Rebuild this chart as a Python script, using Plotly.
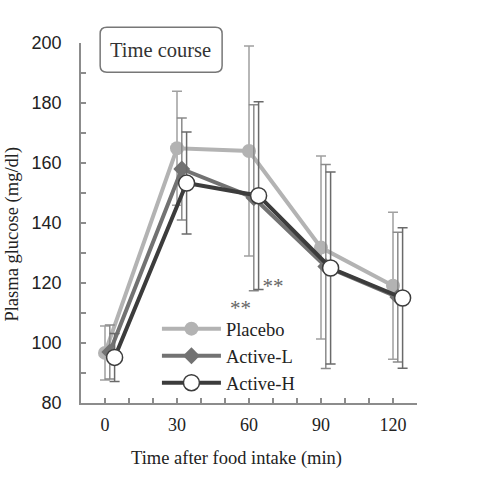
import plotly.graph_objects as go

# minutes after food intake (series are drawn slightly offset, as in the figure)
time_min = [0, 30, 60, 90, 120]
offset_l = [2, 2, 2, 2, 2]
offset_h = [4, 4, 4, 4, 4]

placebo = [96.7, 164.9, 164.0, 131.8, 119.1]
placebo_sd = [9.0, 19.0, 35.0, 30.5, 24.5]
active_l = [97.0, 158.0, 148.4, 125.5, 115.3]
active_l_sd = [9.0, 17.0, 31.0, 34.0, 21.6]
active_h = [95.2, 153.3, 149.1, 125.0, 115.0]
active_h_sd = [8.0, 17.0, 31.3, 32.0, 23.4]

x_ticks = list(range(-10, 131, 10))
x_labels = [str(t) if t >= 0 and t % 30 == 0 else '' for t in x_ticks]
y_ticks = list(range(80, 201, 10))
y_labels = [str(t) if t % 20 == 0 else '' for t in y_ticks]

# "**" marks below the 60 min points
star_x = [56.5, 70]
star_y = [111.2, 118.3]

serif = 'Liberation Serif'
sans = 'Liberation Sans'

fig = go.Figure()

fig.add_trace(go.Scatter(
    x=time_min, y=placebo, name='Placebo', mode='lines+markers',
    line=dict(color='#b3b3b3', width=4),
    marker=dict(symbol='circle', size=14, color='#b3b3b3'),
    error_y=dict(type='data', array=placebo_sd, color='#a0a0a0', thickness=1.5, width=5),
))
fig.add_trace(go.Scatter(
    x=[t + o for t, o in zip(time_min, offset_l)], y=active_l, name='Active-L',
    mode='lines+markers',
    line=dict(color='#727272', width=4),
    marker=dict(symbol='diamond', size=13, color='#727272'),
    error_y=dict(type='data', array=active_l_sd, color='#8a8a8a', thickness=1.5, width=5),
))
fig.add_trace(go.Scatter(
    x=[t + o for t, o in zip(time_min, offset_h)], y=active_h, name='Active-H',
    mode='lines+markers',
    line=dict(color='#3c3c3c', width=4),
    marker=dict(symbol='circle', size=16, color='white', line=dict(color='#3c3c3c', width=1.5)),
    error_y=dict(type='data', array=active_h_sd, color='#6a6a6a', thickness=1.5, width=5),
))

fig.add_trace(go.Scatter(
    x=star_x, y=star_y, mode='text', text=['**', '**'], showlegend=False,
    textfont=dict(family=serif, size=21, color='#666666'), hoverinfo='skip',
))


def rounded_box(x0, y0, x1, y1, rx, ry):
    return (f'M {x0 + rx},{y0} L {x1 - rx},{y0} Q {x1},{y0} {x1},{y0 + ry} '
            f'L {x1},{y1 - ry} Q {x1},{y1} {x1 - rx},{y1} '
            f'L {x0 + rx},{y1} Q {x0},{y1} {x0},{y1 - ry} '
            f'L {x0},{y0 + ry} Q {x0},{y0} {x0 + rx},{y0} Z')


fig.add_shape(type='path', xref='paper', yref='paper',
              path=rounded_box(0.057, 0.919, 0.42, 1.044, 0.02, 0.018),
              line=dict(color='#777777', width=1.5))
fig.add_annotation(x=0.238, y=0.981, xref='paper', yref='paper', text='Time course',
                   xanchor='center', yanchor='middle', showarrow=False,
                   font=dict(family=serif, size=20.5, color='#333333'))

# axis titles sit a bit off-centre in the original, so place them by hand
fig.add_annotation(x=-0.203, y=0.47, xref='paper', yref='paper',
                   text='Plasma glucose (mg/dl)', textangle=-90,
                   xanchor='center', yanchor='middle', showarrow=False,
                   font=dict(family=serif, size=18.5, color='#222222'))
fig.add_annotation(x=0.462, y=-0.155, xref='paper', yref='paper',
                   text='Time after food intake (min)',
                   xanchor='center', yanchor='middle', showarrow=False,
                   font=dict(family=serif, size=18.5, color='#222222'))

axis_common = dict(
    showline=True, linecolor='#8c8c8c', linewidth=1.5, ticks='inside',
    tickcolor='#8c8c8c', ticklen=5, tickwidth=1.5, showgrid=False, zeroline=False,
    tickmode='array', automargin=False,
)

fig.update_layout(
    width=490, height=488,
    margin=dict(l=81, r=73, t=43, b=85),
    paper_bgcolor='white', plot_bgcolor='white',
    xaxis=dict(range=[-10, 130], tickvals=x_ticks, ticktext=x_labels,
               tickfont=dict(family=serif, size=18, color='#222222'), ticklabelstandoff=5,
               **axis_common),
    yaxis=dict(range=[80, 200], tickvals=y_ticks, ticktext=y_labels,
               tickfont=dict(family=sans, size=18, color='#222222'), ticklabelstandoff=14,
               **axis_common),
    legend=dict(x=0.226, y=0.258, xanchor='left', yanchor='top',
                bgcolor='rgba(0,0,0,0)', itemwidth=59, tracegroupgap=2,
                font=dict(family=serif, size=18.5, color='#222222')),
    showlegend=True,
)

# drop the default page margin so the figure fills the window
fig.write_html('out.html', config={'displayModeBar': False},
               post_script="document.body.style.margin = '0';")
